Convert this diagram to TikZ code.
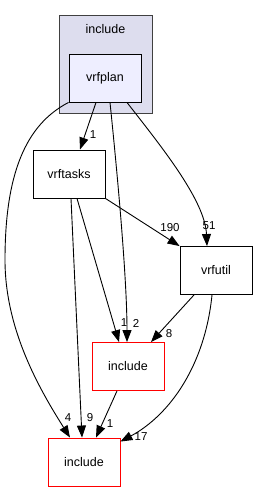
\documentclass[tikz,border=0pt]{standalone}
\usepackage{fontspec}
\setmainfont{Liberation Sans}
\usepackage{tikz}
\usetikzlibrary{arrows.meta,calc,positioning}
\definecolor{clfill}{HTML}{DDDDEE}
\definecolor{dirfill}{HTML}{EEEEFF}

\begin{document}
\begin{tikzpicture}[x=1pt, y=-1pt,
  box/.style={draw, line width=0.9pt, minimum width=72pt, minimum height=48pt, align=center, font=\fontsize{12.5}{14}\selectfont, inner sep=0pt},
  redbox/.style={box, draw=red},
  lbl/.style={font=\fontsize{11.5}{13}\selectfont, inner sep=0pt},
  dep/.style={line width=0.9pt, -{Triangle[length=12pt,width=9pt]}}]

\useasboundingbox (0,0) rectangle (258,492);

% cartella include con vrfplan
\draw[fill=clfill, draw=black!75, line width=0.9pt] (59,15) rectangle (152,113);
\node[lbl, font=\fontsize{12.5}{14}\selectfont] (cltitle) at (105.5,29) {include};
\node[box, fill=dirfill] (vrfplan) at (105,78) {vrfplan};
\node[box, fill=white] (vrftasks) at (69,174) {vrftasks};
\node[box, fill=white] (vrfutil) at (216,270.5) {vrfutil};
\node[redbox, fill=white] (incmid) at (128,366.5) {include};
\node[redbox, fill=white] (incbot) at (84,462) {include};

% dipendenze
\draw[dep] ($(vrfplan.south)+(-9,0)$) -- ($(vrftasks.north)+(11,0)$);
\draw[dep] (vrfplan.south west) .. controls (25,125) and (5,175) .. (5,260)
  .. controls (5,330) and (40,390) .. ($(incbot.north)+(-14,0)$);
\draw[dep] ($(vrfplan.south)+(5,0)$) .. controls (118,180) and (127,280) .. ($(incmid.north)+(-1,0)$);
\draw[dep] ($(vrfplan.south)+(22,0)$) .. controls (160,145) and (205,200) .. ($(vrfutil.north)+(-9,0)$);
\draw[dep] (vrftasks.south east) -- (vrfutil.north west);
\draw[dep] ($(vrftasks.south)+(8,0)$) -- ($(incmid.north)+(-9,0)$);
\draw[dep] ($(vrftasks.south)+(2,0)$) -- ($(incbot.north)+(-2,0)$);
\draw[dep] ($(vrfutil.south)+(-22,0)$) -- ($(incmid.north)+(23,0)$);
\draw[dep] ($(vrfutil.south)+(-4,0)$) .. controls (205,365) and (170,415) .. ($(incbot.north east)+(0,4)$);
\draw[dep] ($(incmid.south)+(-11,0)$) -- ($(incbot.north)+(12,0)$);

% etichette
\node[lbl] (l1) at (93,135) {1};
\node[lbl] (l4) at (68,418) {4};
\node[lbl] (l2) at (136,323) {2};
\node[lbl] (l51) at (209,226) {51};
\node[lbl] (l190) at (170,228) {190};
\node[lbl] (l1b) at (124,323) {1};
\node[lbl] (l9) at (90,418) {9};
\node[lbl] (l8) at (169,334) {8};
\node[lbl] (l17) at (141,437) {17};
\node[lbl] (l1c) at (110,424) {1};

\end{tikzpicture}
\end{document}
